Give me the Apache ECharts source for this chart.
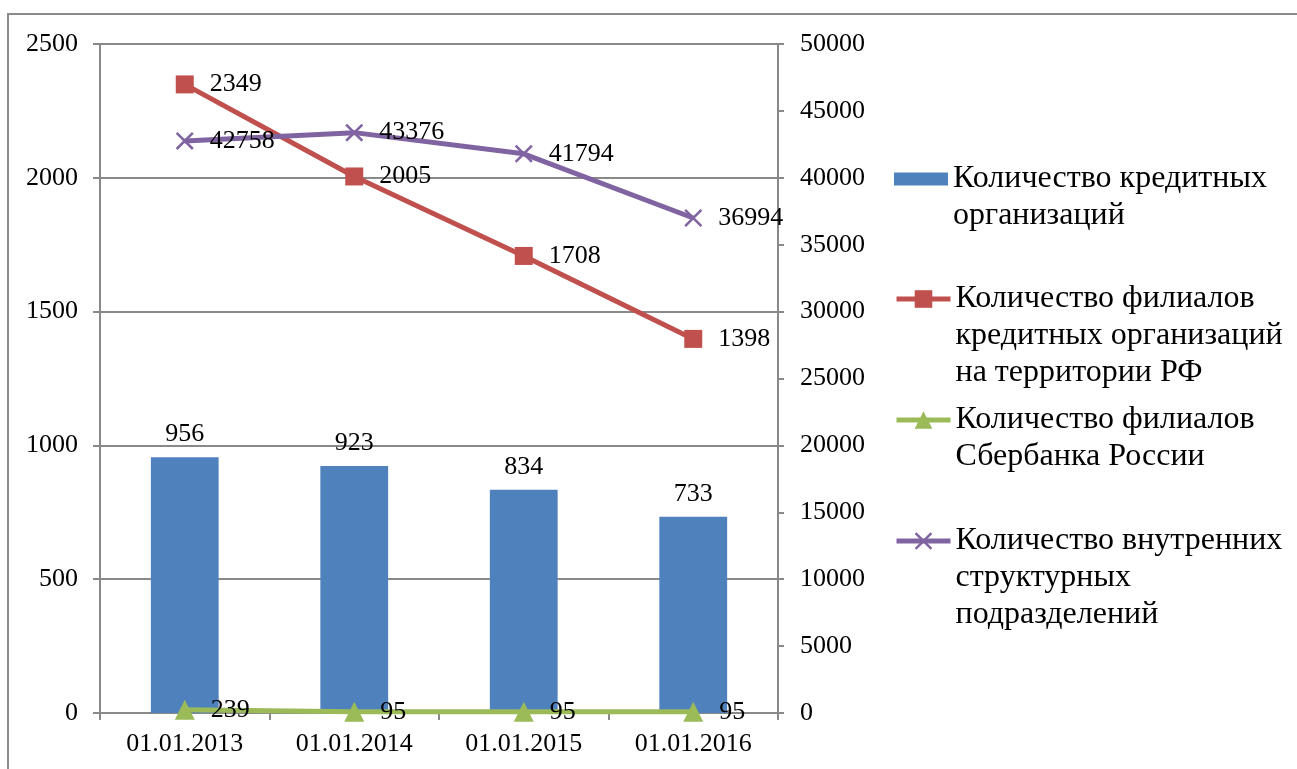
<!DOCTYPE html>
<html>
<head>
<meta charset="utf-8">
<script src="https://cdn.jsdelivr.net/npm/echarts@6/dist/echarts.min.js"></script>
<style>
  html, body { margin: 0; padding: 0; background: #fff; }
  #chart_container { width: 1297px; height: 769px; }
</style>
</head>
<body>
<div id="chart_container"></div>
<script>
  // данные
  var categories = ['01.01.2013', '01.01.2014', '01.01.2015', '01.01.2016']
  var creditOrgs = [956, 923, 834, 733]
  var branchesRF = [2349, 2005, 1708, 1398]
  var sberBranches = [239, 95, 95, 95]
  var innerUnits = [42758, 43376, 41794, 36994]

  var seriesNames = [
    'Количество кредитных организаций',
    'Количество филиалов кредитных организаций на территории РФ',
    'Количество филиалов Сбербанка России',
    'Количество внутренних структурных подразделений'
  ]
  // переносы строк в легенде
  var legendLines = [
    ['Количество кредитных', 'организаций'],
    ['Количество филиалов', 'кредитных организаций', 'на территории РФ'],
    ['Количество филиалов', 'Сбербанка России'],
    ['Количество внутренних', 'структурных', 'подразделений']
  ]

  var FONT = 'Liberation Serif'
  var AXIS_COLOR = '#898989'
  var LINE_H = 37
  var crossPath = 'path://M0,1 L1,0 L10,9 L9,10 Z M9,0 L10,1 L1,10 L0,9 Z'
  var legendIconCenters = [179, 299, 420, 541]

  function makeLegend(i, icon) {
    var n = legendLines[i].length
    var item = { name: seriesNames[i] }
    if (icon) item.icon = icon
    // пустые строки сверху, чтобы значок стоял напротив первой строки
    var blank = new Array(n).join('\n')
    return {
      orient: 'vertical',
      left: 894,
      top: legendIconCenters[i] - (2 * n - 1) * LINE_H / 2,
      padding: 0,
      itemWidth: 54,
      itemHeight: 22,
      selectedMode: false,
      data: [item],
      lineStyle: { width: 5 },
      formatter: function () {
        return blank + legendLines[i].join('\n')
      },
      textStyle: {
        fontFamily: FONT,
        fontSize: 32,
        color: '#000',
        lineHeight: LINE_H
      }
    }
  }

  function lineLabel() {
    return {
      show: true,
      position: 'right',
      distance: 16,
      fontFamily: FONT,
      fontSize: 26,
      color: '#000'
    }
  }

  function plain(v) {
    return String(v)
  }

  var chart = echarts.init(document.getElementById('chart_container'))
  chart.setOption({
    animation: false,
    backgroundColor: '#fff',
    graphic: [{
      type: 'rect',
      shape: { x: 8, y: 14, width: 1320, height: 800 },
      style: { fill: 'none', stroke: '#8c8c8c', lineWidth: 2 },
      silent: true
    }],
    legend: [
      makeLegend(0, 'path://M0,0 H50 V12 H0 Z'),
      makeLegend(1),
      makeLegend(2),
      makeLegend(3)
    ],
    grid: {
      left: 100,
      right: 519,
      top: 44,
      bottom: 56,
      containLabel: false
    },
    xAxis: {
      type: 'category',
      data: categories,
      axisLine: { show: true, lineStyle: { color: AXIS_COLOR, width: 2 } },
      axisTick: { show: true, length: 7, lineStyle: { color: AXIS_COLOR, width: 2 } },
      axisLabel: { fontFamily: FONT, fontSize: 26, color: '#000', margin: 18 }
    },
    yAxis: [{
      type: 'value',
      min: 0,
      max: 2500,
      interval: 500,
      axisLine: { show: true, lineStyle: { color: AXIS_COLOR, width: 2 } },
      axisTick: { show: true, length: 7, lineStyle: { color: AXIS_COLOR, width: 2 } },
      splitLine: { show: true, lineStyle: { color: AXIS_COLOR, width: 2 } },
      axisLabel: { fontFamily: FONT, fontSize: 26, color: '#000', margin: 22, formatter: plain }
    }, {
      type: 'value',
      min: 0,
      max: 50000,
      interval: 5000,
      axisLine: { show: true, lineStyle: { color: AXIS_COLOR, width: 2 } },
      axisTick: { show: true, length: 6, lineStyle: { color: AXIS_COLOR, width: 2 } },
      splitLine: { show: false },
      axisLabel: { fontFamily: FONT, fontSize: 26, color: '#000', margin: 22, formatter: plain }
    }],
    series: [{
      name: seriesNames[0],
      type: 'bar',
      yAxisIndex: 0,
      barWidth: '40%',
      itemStyle: { color: '#4f81bd' },
      label: {
        show: true,
        position: 'top',
        distance: 10,
        fontFamily: FONT,
        fontSize: 26,
        color: '#000'
      },
      data: creditOrgs
    }, {
      name: seriesNames[1],
      type: 'line',
      yAxisIndex: 0,
      symbol: 'rect',
      symbolSize: 18,
      lineStyle: { color: '#c0504d', width: 5 },
      itemStyle: { color: '#c0504d' },
      label: lineLabel(),
      z: 3,
      data: branchesRF
    }, {
      name: seriesNames[2],
      type: 'line',
      yAxisIndex: 1,
      symbol: 'triangle',
      symbolSize: 20,
      lineStyle: { color: '#9bbb59', width: 5 },
      itemStyle: { color: '#9bbb59' },
      label: lineLabel(),
      z: 3,
      data: sberBranches
    }, {
      name: seriesNames[3],
      type: 'line',
      yAxisIndex: 1,
      symbol: crossPath,
      symbolSize: 18,
      lineStyle: { color: '#8064a2', width: 5 },
      itemStyle: { color: '#8064a2' },
      label: lineLabel(),
      z: 3,
      data: innerUnits
    }]
  })
</script>
</body>
</html>
